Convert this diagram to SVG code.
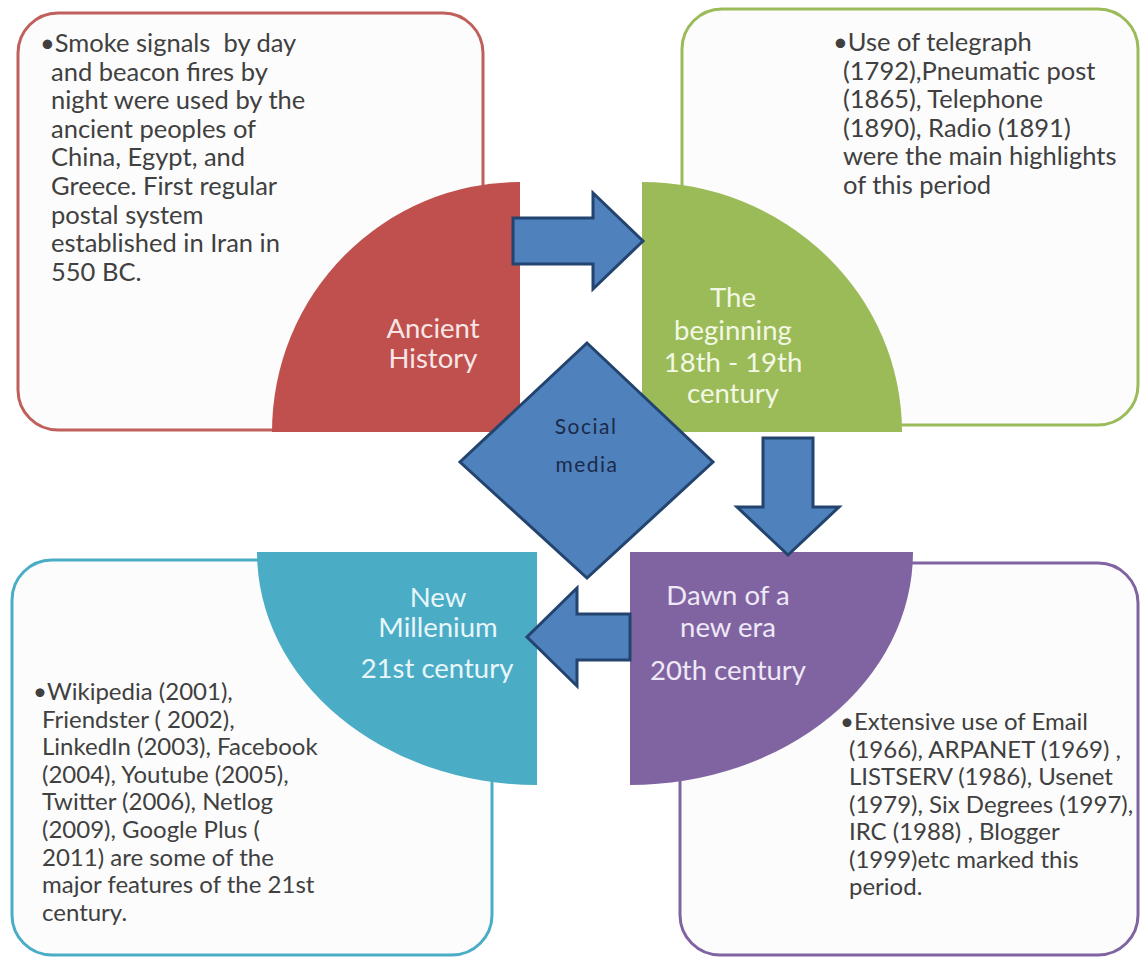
<svg xmlns="http://www.w3.org/2000/svg" width="1143" height="964" viewBox="0 0 1143 964">
<style>
.box{fill:#fcfcfc;stroke-width:3}
.body{font-family:Lato,"Liberation Sans",sans-serif;font-size:25.5px;fill:#404040}
.body2{font-family:Lato,"Liberation Sans",sans-serif;font-size:24px;fill:#404040}
.lbl{font-family:Lato,"Liberation Sans",sans-serif;font-size:27.5px;text-anchor:middle}
.arrow{fill:#4f81bd;stroke:#23446e;stroke-width:3;stroke-linejoin:miter}
.center{font-family:Lato,"Liberation Sans",sans-serif;font-size:21px;fill:#1a2a4a;text-anchor:middle;letter-spacing:1.5px}
</style>
<rect width="1143" height="964" fill="#ffffff"/>

<g id="node-ancient">
<rect class="box" x="18" y="13" width="465" height="417" rx="40" stroke="#c0605d"/>
<path d="M520,432 H272 A248,250 0 0 1 520,182 Z" fill="#c0504d"/>
<text class="body" xml:space="preserve"><tspan x="40" y="52">•Smoke signals  by day</tspan><tspan x="51" y="80.6">and beacon fires by</tspan><tspan x="51" y="109.2">night were used by the</tspan><tspan x="51" y="137.8">ancient peoples of</tspan><tspan x="51" y="166.4">China, Egypt, and</tspan><tspan x="51" y="195">Greece. First regular</tspan><tspan x="51" y="223.6">postal system</tspan><tspan x="51" y="252.2">established in Iran in</tspan><tspan x="51" y="280.8">550 BC.</tspan></text>
<text class="lbl" fill="#f6e6e6"><tspan x="433" y="338">Ancient</tspan><tspan x="433" y="368">History</tspan></text>
</g>

<g id="node-beginning">
<rect class="box" x="682" y="9" width="456" height="416" rx="40" stroke="#9bbb59"/>
<path d="M642,432 V182 A260,250 0 0 1 902,432 Z" fill="#9bbb59"/>
<text class="body"><tspan x="833" y="51">•Use of telegraph</tspan><tspan x="843" y="79.5">(1792),Pneumatic post</tspan><tspan x="843" y="108">(1865), Telephone</tspan><tspan x="843" y="136.5">(1890), Radio (1891)</tspan><tspan x="843" y="165">were the main highlights</tspan><tspan x="843" y="193.5">of this period</tspan></text>
<text class="lbl" fill="#f2f8e4"><tspan x="733" y="307">The</tspan><tspan x="733" y="340">beginning</tspan><tspan x="733" y="372">18th - 19th</tspan><tspan x="733" y="403">century</tspan></text>
</g>

<g id="node-dawn">
<rect class="box" x="680" y="563" width="458" height="392" rx="40" stroke="#8064a2"/>
<path d="M630,552 H913 A283,233 0 0 1 630,785 Z" fill="#8064a2"/>
<text class="body2"><tspan x="840" y="730">•Extensive use of Email</tspan><tspan x="849" y="757.5">(1966), ARPANET (1969) ,</tspan><tspan x="849" y="785">LISTSERV (1986), Usenet</tspan><tspan x="849" y="812.5">(1979), Six Degrees (1997),</tspan><tspan x="849" y="840">IRC (1988) , Blogger</tspan><tspan x="849" y="867.5">(1999)etc marked this</tspan><tspan x="849" y="895">period.</tspan></text>
<text class="lbl" fill="#efe8f6"><tspan x="728" y="605">Dawn of a</tspan><tspan x="728" y="637">new era</tspan><tspan x="728" y="680">20th century</tspan></text>
</g>

<g id="node-millenium">
<rect class="box" x="12" y="560" width="480" height="395" rx="40" stroke="#4bacc6"/>
<path d="M537,552 H257 A280,233 0 0 0 537,785 Z" fill="#4bacc6"/>
<text class="body2"><tspan x="33" y="700">•Wikipedia (2001),</tspan><tspan x="42" y="727.6">Friendster ( 2002),</tspan><tspan x="42" y="755.2">LinkedIn (2003), Facebook</tspan><tspan x="42" y="782.8">(2004), Youtube (2005),</tspan><tspan x="42" y="810.4">Twitter (2006), Netlog</tspan><tspan x="42" y="838">(2009), Google Plus (</tspan><tspan x="42" y="865.6">2011) are some of the</tspan><tspan x="42" y="893.2">major features of the 21st</tspan><tspan x="42" y="920.8">century.</tspan></text>
<text class="lbl" fill="#e8f6fa"><tspan x="438" y="607">New</tspan><tspan x="438" y="637">Millenium</tspan><tspan x="437" y="678">21st century</tspan></text>
</g>

<g id="connectors">
<polygon class="arrow" points="513,218 593,218 593,193 643,241 593,289 593,264 513,264"/>
<polygon class="arrow" points="763,438 813,438 813,507 839,507 788,555 737,507 763,507"/>
<polygon class="arrow" points="630,614 577,614 577,588 527,637 577,686 577,660 630,660"/>
</g>

<g id="node-social">
<polygon class="arrow" points="587,343 713,462 587,578 460,462"/>
<text class="center"><tspan x="586" y="434">Social</tspan><tspan x="587" y="472">media</tspan></text>
</g>
</svg>
